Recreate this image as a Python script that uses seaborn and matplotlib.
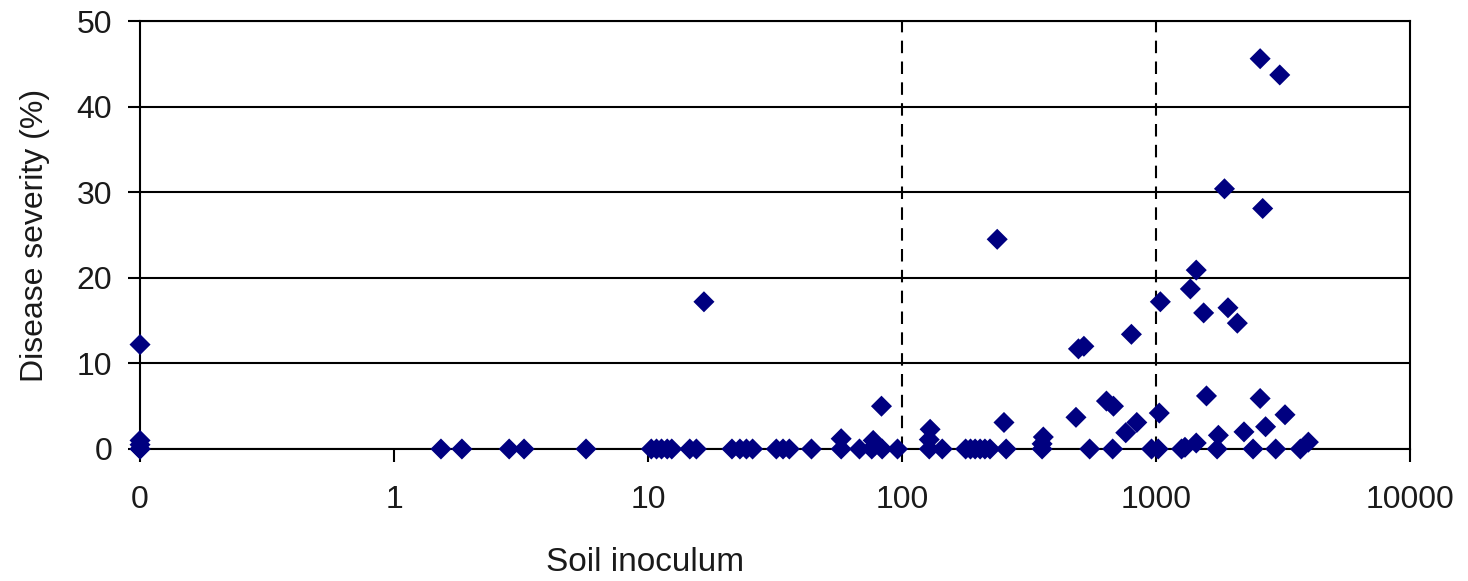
# ============================================================
# Disease severity vs soil inoculum (log scale scatter)
# ============================================================

import numpy as np
import pandas as pd
import matplotlib
matplotlib.use("Agg")
import matplotlib.pyplot as plt
import matplotlib.ticker as mticker
import seaborn as sns

sns.set_theme(style="white")
plt.rcParams["font.family"] = ["Liberation Sans", "DejaVu Sans"]

# ── Data ─────────────────────────────────────────────────────
soil_inoculum = [
    0, 0, 0, 0, 0,
    1.53, 1.85, 2.84, 3.25, 5.7,
    10.3, 10.8, 11.3, 11.9, 12.4, 14.6, 15.5, 16.6,
    21.4, 23.0, 24.4, 25.8, 32, 34, 36, 44,
    57.6, 57.6, 68, 76, 77, 78, 83.5, 83, 96,
    128, 128, 129, 144, 178, 186, 194, 203, 212, 222,
    237, 252, 257, 356, 356, 360, 484, 495, 520, 548,
    638, 680, 675, 760, 800, 840, 960,
    1020, 1030, 1040, 1260, 1300, 1365, 1440, 1440, 1540, 1580,
    1740, 1760, 1860, 1920, 2090, 2220, 2410, 2570, 2570, 2630,
    2700, 2960, 3070, 3220, 3700, 3980,
]
disease_severity = [
    12.2, 1.0, 0.5, 0, 0,
    0, 0, 0, 0, 0,
    0, 0, 0, 0, 0, 0, 0, 17.2,
    0, 0, 0, 0, 0, 0, 0, 0,
    0, 1.2, 0, 0, 1.0, 0.4, 0, 5.0, 0,
    0, 1.1, 2.3, 0, 0, 0, 0, 0, 0, 0,
    24.5, 3.1, 0, 0, 0.6, 1.4, 3.7, 11.7, 12.0, 0,
    5.6, 5.0, 0, 1.9, 13.4, 3.1, 0,
    0, 4.2, 17.2, 0, 0.2, 18.7, 20.9, 0.7, 15.9, 6.2,
    0, 1.6, 30.4, 16.5, 14.7, 2.0, 0, 45.6, 5.9, 28.1,
    2.6, 0, 43.7, 4.0, 0, 0.8,
]

x_ticks = [0.1, 1, 10, 100, 1000, 10000]
x_tick_labels = ["0", "1", "10", "100", "1000", "10000"]
y_ticks = [0, 10, 20, 30, 40, 50]
ref_lines = [100, 1000]

df = pd.DataFrame({"inoculum": soil_inoculum, "severity": disease_severity})
# zero counts sit on the "0" position at the left end of the log axis
df["x_plot"] = df["inoculum"].where(df["inoculum"] > 0, 0.1)

# ── Plot ─────────────────────────────────────────────────────
fig = plt.figure(figsize=(14.68, 5.81), dpi=100)
ax = fig.add_axes([0.0954, 0.2272, 0.8651, 0.7366])

for y in y_ticks:
    ax.axhline(y, color="black", lw=1.5, zorder=1)
for x in ref_lines:
    ax.axvline(x, color="black", lw=1.5, ls=(0, (6, 4)), zorder=1)

sns.scatterplot(data=df, x="x_plot", y="severity", ax=ax, marker="D",
                s=115, color="#000080", edgecolor="none", linewidth=0,
                clip_on=False, zorder=3, legend=False)

ax.set_xscale("log")
ax.set_xlim(0.1, 10000)
ax.set_ylim(0, 50)
ax.set_xticks(x_ticks)
ax.set_xticklabels(x_tick_labels)
ax.xaxis.set_minor_locator(mticker.NullLocator())
ax.set_yticks(y_ticks)

ax.tick_params(axis="both", direction="out", length=9, width=1.5,
               color="black", labelsize=23, labelcolor="#1a1a1a")
ax.tick_params(axis="x", pad=17, bottom=True)
ax.tick_params(axis="y", pad=11, left=True)

for sp in ax.spines.values():
    sp.set_color("black")
    sp.set_linewidth(1.5)

ax.set_xlabel("Soil inoculum", fontsize=24, color="#1a1a1a")
ax.xaxis.set_label_coords(0.398, -0.266)
ax.xaxis.label.set_va("center")
ax.set_ylabel("Disease severity (%)", fontsize=23, color="#1a1a1a")
ax.yaxis.set_label_coords(-0.083, 0.5)
ax.yaxis.label.set_va("center")

fig.savefig("out.png", dpi=100)
